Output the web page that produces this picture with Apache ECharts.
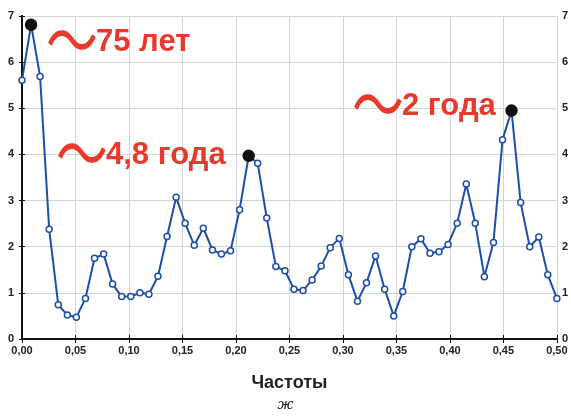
<!DOCTYPE html>
<html><head><meta charset="utf-8">
<script src="https://cdn.jsdelivr.net/npm/echarts@6/dist/echarts.min.js"></script>
<style>html,body{margin:0;padding:0;background:#fff}#c{width:571px;height:419px}</style>
</head><body><div id="c"></div>
<script>
var freq = [0, 0.0085, 0.0169, 0.0254, 0.0339, 0.0424, 0.0508, 0.0593, 0.0678, 0.0763,
  0.0847, 0.0932, 0.1017, 0.1102, 0.1186, 0.1271, 0.1356, 0.1441, 0.1525, 0.1610,
  0.1695, 0.1780, 0.1864, 0.1949, 0.2034, 0.2119, 0.2203, 0.2288, 0.2373, 0.2458,
  0.2542, 0.2627, 0.2712, 0.2797, 0.2881, 0.2966, 0.3051, 0.3136, 0.3220, 0.3305,
  0.3390, 0.3475, 0.3559, 0.3644, 0.3729, 0.3814, 0.3898, 0.3983, 0.4068, 0.4153,
  0.4237, 0.4322, 0.4407, 0.4492, 0.4576, 0.4661, 0.4746, 0.4831, 0.4915, 0.5000];
var power = [5.61, 6.81, 5.69, 2.38, 0.74, 0.52, 0.47, 0.88, 1.75, 1.84,
  1.19, 0.92, 0.92, 1.00, 0.97, 1.36, 2.22, 3.07, 2.51, 2.03,
  2.40, 1.93, 1.84, 1.91, 2.80, 3.97, 3.81, 2.62, 1.57, 1.48,
  1.08, 1.05, 1.28, 1.58, 1.98, 2.18, 1.39, 0.82, 1.22, 1.80,
  1.08, 0.50, 1.03, 2.00, 2.17, 1.86, 1.89, 2.05, 2.51, 3.36,
  2.51, 1.35, 2.09, 4.32, 4.95, 2.96, 2.00, 2.21, 1.39, 0.88];
var peaks = [1, 25, 54];
var annotations = ['75 лет', '4,8 года', '2 года'];
var xTicks = ['0,00','0,05','0,10','0,15','0,20','0,25','0,30','0,35','0,40','0,45','0,50'];
var yTicks = ['0','1','2','3','4','5','6','7'];
var xName = 'Частоты';
var caption = 'ж';

var BLUE = '#1d4fa6', RED = '#e8392c';
var data = freq.map(function (f, i) {
  var d = { value: [f, power[i]] };
  if (peaks.indexOf(i) >= 0) {
    d.symbolSize = 11;
    d.itemStyle = { color: '#111', borderColor: '#111' };
  }
  return d;
});
var lblX = { fontFamily: 'Liberation Sans', fontWeight: 'bold', fontSize: 11, color: '#222' };
var chart = echarts.init(document.getElementById('c'));
function ann(x, y, txt, fs) {
  return [
    { type: 'text', x: x, y: y, scaleX: 1.08, scaleY: 1.5, z: 100,
      style: { text: '〜', fontFamily: 'Noto Sans CJK SC', fontWeight: 'normal', fontSize: 48,
               fill: RED, textVerticalAlign: 'middle', verticalAlign: 'middle' } },
    { type: 'text', x: x + 50, y: y + 2, z: 100,
      style: { text: txt, fontFamily: 'Liberation Sans', fontWeight: 'bold', fontSize: fs,
               fill: RED, textVerticalAlign: 'middle', verticalAlign: 'middle' } }
  ];
}
chart.setOption({
  animation: false,
  backgroundColor: '#fff',
  grid: { left: 22, right: 14, top: 16, bottom: 80, containLabel: false },
  xAxis: [{
    type: 'value', min: 0, max: 0.5, interval: 0.05, position: 'bottom',
    name: xName, nameLocation: 'middle', nameGap: 35,
    nameTextStyle: { fontFamily: 'Liberation Sans', fontWeight: 'bold', fontSize: 18, color: '#222' },
    axisLine: { lineStyle: { color: '#111', width: 2 } },
    axisTick: { inside: true, length: 4, lineStyle: { color: '#111' } },
    axisLabel: Object.assign({ margin: 6, formatter: function (v) { return xTicks[Math.round(v / 0.05)]; } }, lblX),
    splitLine: { lineStyle: { color: '#d4d4d4', width: 1 } }
  }, {
    type: 'value', min: 0, max: 0.5, interval: 0.05, position: 'top',
    axisLine: { show: true, lineStyle: { color: '#111', width: 2 } },
    axisTick: { show: true, inside: true, length: 4, lineStyle: { color: '#111' } },
    axisLabel: { show: false }, splitLine: { show: false }
  }],
  yAxis: [{
    type: 'value', min: 0, max: 7, interval: 1, position: 'left',
    axisLine: { show: true, lineStyle: { color: '#111', width: 2 } },
    axisTick: { show: true, inside: true, length: 3, lineStyle: { color: '#111' } },
    axisLabel: Object.assign({ margin: 8, formatter: function (v) { return yTicks[v]; } }, lblX),
    splitLine: { lineStyle: { color: '#d4d4d4', width: 1 } }
  }, {
    type: 'value', min: 0, max: 7, interval: 1, position: 'right',
    axisLine: { show: true, lineStyle: { color: '#111', width: 2 } },
    axisTick: { show: true, inside: true, length: 3, lineStyle: { color: '#111' } },
    axisLabel: Object.assign({ margin: 5, formatter: function (v) { return yTicks[v]; } }, lblX),
    splitLine: { show: false }
  }],
  series: [{
    type: 'line', data: data, xAxisIndex: 0, yAxisIndex: 0,
    symbol: 'circle', symbolSize: 6, showAllSymbol: true,
    lineStyle: { color: BLUE, width: 2 },
    itemStyle: { color: '#fff', borderColor: BLUE, borderWidth: 1.5 },
    z: 5
  }],
  graphic: [].concat(
    ann(46, 40, annotations[0], 31),
    ann(56, 153, annotations[1], 31),
    ann(352, 104, annotations[2], 31),
    [{ type: 'text', left: 'center', top: 398,
       style: { text: caption, fontFamily: 'DejaVu Serif', fontStyle: 'italic', fontSize: 14, fill: '#222' } }]
  )
});
</script></body></html>
